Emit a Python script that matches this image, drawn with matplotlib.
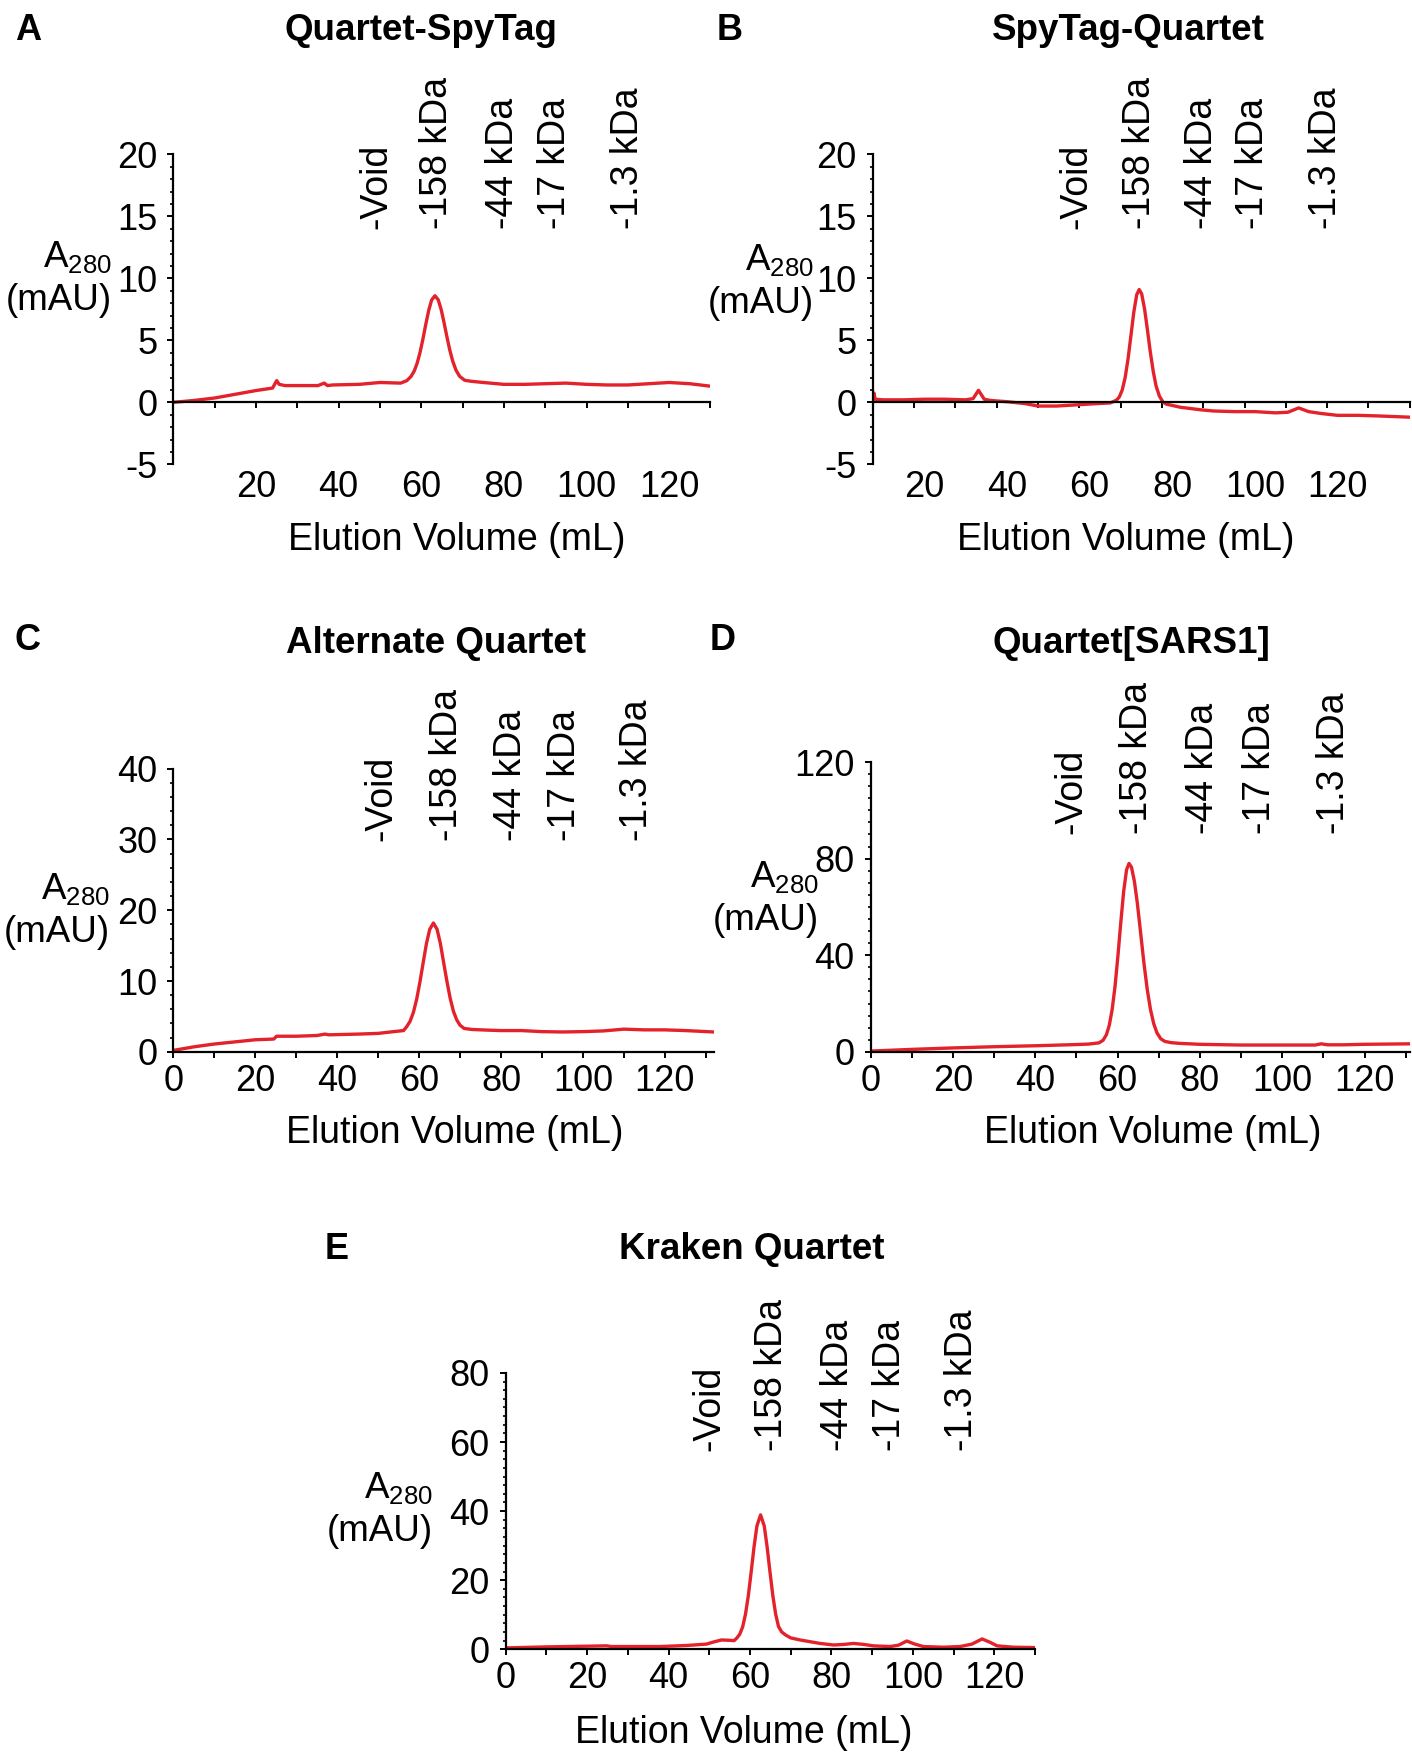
import numpy as np
import matplotlib
matplotlib.use('Agg')
import matplotlib.pyplot as plt
import matplotlib.transforms as mtransforms
from matplotlib.ticker import MultipleLocator, FuncFormatter

plt.rcParams['font.family'] = ['Liberation Sans', 'DejaVu Sans']
plt.rcParams['axes.unicode_minus'] = False
plt.rcParams['mathtext.fontset'] = 'custom'
plt.rcParams['mathtext.rm'] = 'Liberation Sans'
plt.rcParams['mathtext.it'] = 'Liberation Sans:italic'
plt.rcParams['mathtext.bf'] = 'Liberation Sans:bold'

W, H = 1412, 1755
RED = '#e3222b'

MARKER_NAMES = ['-Void', '-158 kDa', '-44 kDa', '-17 kDa', '-1.3 kDa']
X_LABELS = [20, 40, 60, 80, 100, 120]
YLABEL = 'A$_{\\mathregular{280}}$\n(mAU)'

# A: Quartet-SpyTag
a_x = [0, 5, 10, 15, 20, 24, 25, 25.6, 27, 30, 35, 36.5, 37.3, 38.5, 45, 50, 55, 56.5,
       57.5, 58.3, 59.0, 59.7, 60.4, 61.1, 61.8, 62.5, 63.3, 64.1, 64.8, 65.5, 66.2,
       66.9, 67.6, 68.4, 69.3, 70.5, 72, 75, 80, 85, 90, 95, 100, 105, 110, 115, 120,
       125, 130]
a_y = [0, 0.15, 0.35, 0.65, 0.95, 1.15, 1.75, 1.45, 1.35, 1.35, 1.35, 1.55, 1.35, 1.4,
       1.45, 1.6, 1.55, 1.75, 2.08, 2.53, 3.16, 4.03, 5.12, 6.31, 7.42, 8.25, 8.6, 8.27,
       7.5, 6.44, 5.29, 4.21, 3.33, 2.59, 2.09, 1.78, 1.7, 1.6, 1.45, 1.45, 1.5, 1.55,
       1.45, 1.4, 1.4, 1.5, 1.6, 1.5, 1.3]
a_markers = [49.2, 63.9, 79.8, 92.3, 110]

# B: SpyTag-Quartet
b_x = [7.5, 7.8, 8.1, 10, 15, 20, 25, 30, 31.8, 33.1, 34.5, 36, 40, 44.3, 47.5, 52, 57,
       62, 65, 66.5, 67.2, 67.9, 68.6, 69.3, 70.0, 70.7, 71.4, 72.0, 72.6, 73.3, 74.0,
       74.7, 75.4, 76.1, 76.9, 77.8, 78.6, 82, 86.8, 90, 95, 100, 105, 108, 110.6, 113,
       116, 120, 125, 130, 137.5]
b_y = [0.2, 0.75, 0.25, 0.2, 0.2, 0.25, 0.25, 0.2, 0.3, 0.97, 0.25, 0.15, 0.05, -0.1,
       -0.3, -0.3, -0.2, -0.1, -0.05, 0.17, 0.44, 1.0, 1.99, 3.49, 5.38, 7.28, 8.68,
       9.1, 8.75, 7.54, 5.83, 4.04, 2.5, 1.3, 0.5, 0.0, -0.15, -0.4, -0.6, -0.7, -0.75,
       -0.75, -0.85, -0.8, -0.45, -0.75, -0.9, -1.05, -1.05, -1.1, -1.2]
b_markers = [56.8, 72.1, 87.3, 99.6, 117.3]

# C: Alternate Quartet
c_x = [0, 5, 10, 15, 20, 24.5, 25.2, 30, 35, 37, 38, 45, 50, 53, 56.2, 57.0, 57.8, 58.6,
       59.4, 60.2, 61.0, 61.8, 62.6, 63.5, 64.4, 65.2, 66.0, 66.8, 67.6, 68.4, 69.2,
       70.0, 71.0, 73, 77.3, 80, 85, 90, 95, 100, 105, 110, 115, 120, 125, 132]
c_y = [0.2, 0.7, 1.1, 1.4, 1.7, 1.8, 2.2, 2.2, 2.3, 2.5, 2.4, 2.5, 2.6, 2.8, 3.0, 3.57,
       4.31, 5.55, 7.4, 9.84, 12.6, 15.3, 17.3, 18.2, 17.3, 15.3, 12.6, 9.95, 7.55, 5.7,
       4.5, 3.76, 3.3, 3.15, 3.05, 3.0, 3.0, 2.85, 2.8, 2.85, 2.95, 3.2, 3.1, 3.1, 3.0,
       2.8]
c_markers = [50.8, 66.7, 82.5, 95.6, 113.2]

# D: Quartet[SARS1]
d_x = [0, 10, 20, 30, 40, 50, 53, 55.5, 56.5, 57.3, 58.0, 58.7, 59.4, 60.1, 60.8, 61.5,
       62.2, 62.8, 63.4, 64.1, 64.8, 65.6, 66.4, 67.2, 68.0, 68.8, 69.6, 70.5, 71.5, 73,
       75, 80, 90, 100, 108, 109.5, 111, 115, 120, 131]
d_y = [0.3, 1.0, 1.6, 2.1, 2.5, 3.0, 3.2, 3.7, 4.8, 7.06, 10.97, 17.5, 27.1, 39.7, 53.6,
       66.5, 75.4, 78.0, 76.4, 70.6, 61.8, 49.5, 37.0, 26.1, 17.6, 11.6, 7.8, 5.4, 4.3,
       3.8, 3.5, 3.1, 2.8, 2.8, 2.8, 3.3, 2.9, 2.9, 3.1, 3.3]
d_markers = [48.7, 64.8, 80.7, 94.5, 112.5]

# E: Kraken Quartet
e_x = [0, 10, 20, 24.8, 26, 30, 37.9, 44.4, 49.3, 51, 53, 55, 56.1, 56.8, 57.5, 58.2,
       58.9, 59.6, 60.3, 61.0, 61.7, 62.6, 63.5, 64.2, 64.9, 65.6, 66.3, 67.0, 67.8,
       68.8, 70.0, 72.3, 77.2, 80.5, 83, 85.4, 88, 90.3, 94.4, 96.5, 98.5, 100.5, 102.6,
       107.5, 111.6, 114.5, 117, 119, 120.7, 124.8, 130]
e_y = [0.4, 0.7, 0.9, 1.0, 0.8, 0.8, 0.8, 1.1, 1.5, 2.1, 2.7, 2.6, 2.5, 3.3, 4.4, 6.5,
       10.2, 15.6, 22.5, 29.7, 35.7, 38.9, 35.7, 29.7, 22.5, 15.6, 10.2, 6.6, 5.0, 4.1,
       3.3, 2.7, 1.7, 1.25, 1.4, 1.7, 1.4, 1.0, 0.8, 1.2, 2.4, 1.5, 0.8, 0.6, 0.8, 1.5,
       3.0, 2.0, 1.0, 0.6, 0.5]
e_markers = [50, 65.5, 81.5, 94.5, 112]


def rect_px(left, top, right, bottom):
    return [left / W, 1 - bottom / H, (right - left) / W, (bottom - top) / H]


def put_text(fig, x, y, s, **kw):
    fig.text(x / W, 1 - y / H, s, ha='center', va='center', **kw)


def draw_panel(fig, box, x, y, xlim, ylim, ymajor, yminor, markers, marker_drop,
               ylab_y, ylab_gap, zero_axis):
    ax = fig.add_axes(rect_px(*box))
    ax.plot(x, y, color=RED, lw=2.4, solid_joinstyle='round')
    ax.set_xlim(*xlim)
    ax.set_ylim(*ylim)
    ax.spines['top'].set_visible(False)
    ax.spines['right'].set_visible(False)
    ax.spines['left'].set_linewidth(1.6)
    ax.spines['bottom'].set_linewidth(1.6)

    ax.yaxis.set_major_locator(MultipleLocator(ymajor))
    ax.yaxis.set_minor_locator(MultipleLocator(yminor))
    ax.tick_params(axis='y', which='major', direction='out', length=4.5, width=1.4,
                   pad=7, labelsize=26)
    ax.tick_params(axis='y', which='minor', direction='out', length=2.5, width=1.2)

    if zero_axis:
        # axis line runs through zero, numbers sit under the plot box
        ax.spines['bottom'].set_position(('data', 0))
        ax.set_xticks(np.arange(xlim[0] + 10, xlim[1] + 0.01, 10))
        ax.tick_params(axis='x', direction='out', length=4.5, width=1.4,
                       labelbottom=False)
        sec = ax.secondary_xaxis('bottom')
        sec.set_xticks(X_LABELS)
        sec.tick_params(length=0, pad=4, labelsize=26)
        sec.spines['bottom'].set_visible(False)
    else:
        ax.set_xticks(np.arange(0, xlim[1] + 0.01, 10))
        ax.xaxis.set_major_formatter(FuncFormatter(
            lambda v, p: f'{v:.0f}' if round(v) % 20 == 0 and v <= 120 else ''))
        ax.tick_params(axis='x', direction='out', length=4.5, width=1.4, pad=4,
                       labelsize=26)

    ax.annotate(YLABEL, xy=(0, ylab_y), xycoords=('axes fraction', 'data'),
                xytext=(-ylab_gap * 0.72, 0), textcoords='offset points',
                ha='right', va='center', multialignment='right', fontsize=26.5,
                linespacing=1.3)

    height_px = box[3] - box[1]
    trans = mtransforms.blended_transform_factory(ax.transData, ax.transAxes)
    for mx, name in zip(markers, MARKER_NAMES):
        ax.text(mx, 1 - marker_drop / height_px, name, transform=trans, rotation=90,
                ha='center', va='bottom', fontsize=27, clip_on=False)
    return ax


fig = plt.figure(figsize=(W / 100, H / 100), dpi=100)

draw_panel(fig, (173.4, 154.4, 710.5, 464.3), a_x, a_y, (0, 130), (-5, 20), 5, 1,
           a_markers, 75, 10, 61.5, True)
draw_panel(fig, (872.7, 154.4, 1409.8, 464.3), b_x, b_y, (7.5, 137.5), (-5, 20), 5, 1,
           b_markers, 75, 9.75, 59, True)
draw_panel(fig, (173.4, 768.7, 713.9, 1051.8), c_x, c_y, (0, 132), (0, 40), 10, 2,
           c_markers, 72.7, 20, 64, False)
draw_panel(fig, (870.5, 762.0, 1409.8, 1051.8), d_x, d_y, (0, 131), (0, 120), 40, 5,
           d_markers, 71.6, 63.5, 51.5, False)
draw_panel(fig, (505.7, 1372.9, 1035.0, 1649.3), e_x, e_y, (0, 130), (0, 80), 20, 2.5,
           e_markers, 78.3, 40.5, 72.7, False)

titles = [('Quartet-SpyTag', 420.7, 30.2), ('SpyTag-Quartet', 1127.9, 30.2),
          ('Alternate Quartet', 436.4, 643.4), ('Quartet[SARS1]', 1131.2, 643.4),
          ('Kraken Quartet', 751.9, 1249.8)]
letters = [('A', 28, 30.2), ('B', 729.5, 30.2), ('C', 28, 641), ('D', 722.8, 641),
           ('E', 336.8, 1249.8)]
xlabels = [(456.5, 540.4), (1125.6, 540.4), (454.3, 1133.4), (1152.5, 1133.4),
           (744, 1733.2)]

for s, tx, ty in titles:
    put_text(fig, tx, ty, s, fontsize=26.5, fontweight='bold')
for s, tx, ty in letters:
    put_text(fig, tx, ty, s, fontsize=26, fontweight='bold')
for tx, ty in xlabels:
    put_text(fig, tx, ty, 'Elution Volume (mL)', fontsize=27)

fig.savefig('out.png', dpi=100)
